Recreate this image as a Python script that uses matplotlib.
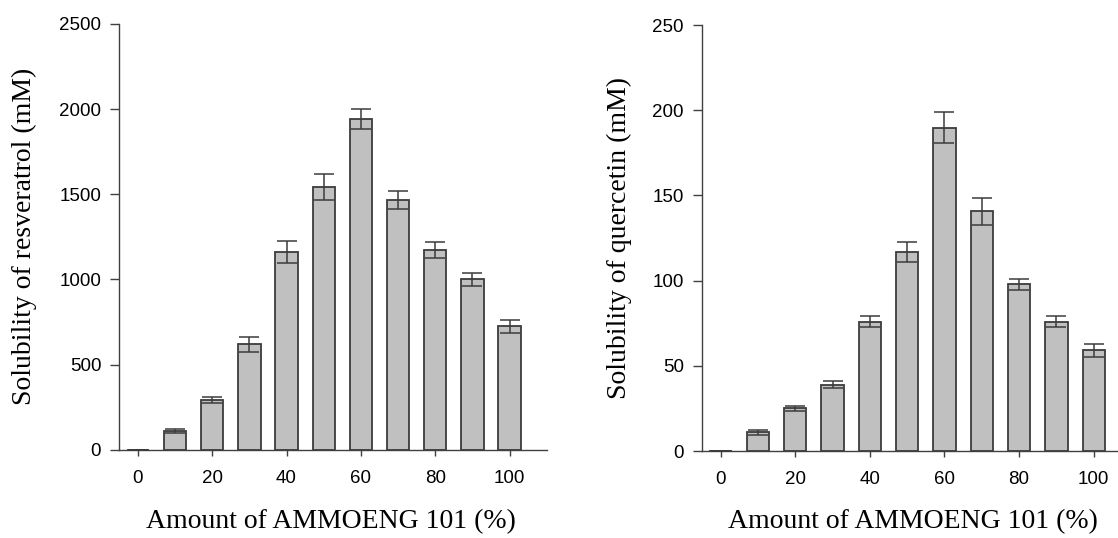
import matplotlib
matplotlib.use("Agg")
import matplotlib.pyplot as plt

# AMMOENG 101 content (%)
amounts = [0, 10, 20, 30, 40, 50, 60, 70, 80, 90, 100]

# Resveratrol solubility (mM) and standard deviation
resveratrol = [0, 111, 292, 619, 1163, 1542, 1942, 1464, 1173, 1000, 724]
resveratrol_err = [0, 10, 20, 44, 65, 78, 60, 53, 48, 36, 39]

# Quercetin solubility (mM) and standard deviation
quercetin = [0, 10.9, 25.2, 39.0, 75.9, 116.9, 189.8, 140.7, 97.8, 75.9, 59.0]
quercetin_err = [0, 1.6, 1.5, 2.3, 3.1, 6.0, 9.1, 7.8, 3.3, 3.2, 3.9]

x_ticks = [0, 20, 40, 60, 80, 100]
res_ticks = [0, 500, 1000, 1500, 2000, 2500]
que_ticks = [0, 50, 100, 150, 200, 250]

W, H = 1118, 538
fig = plt.figure(figsize=(W / 100, H / 100), dpi=100)

tick_font = "Liberation Sans"
label_font = "Liberation Serif"
edge = "#3c3c3c"


def panel(rect, values, errors, yticks, ylabel, ylabel_x, xlabel_x, xlabel_y):
    ax = fig.add_axes(rect)
    ax.bar(amounts, values, width=6, color="#c0c0c0", edgecolor=edge,
           linewidth=1.3, zorder=2)
    ax.errorbar(amounts, values, yerr=errors, fmt="none", ecolor=edge,
                elinewidth=1.1, capsize=7.5, capthick=1.1, zorder=3)
    ax.set_xlim(-5, 110)
    ax.set_ylim(0, yticks[-1])
    ax.set_xticks(x_ticks)
    ax.set_yticks(yticks)
    for side in ("top", "right"):
        ax.spines[side].set_visible(False)
    for side in ("left", "bottom"):
        ax.spines[side].set_color("#404040")
        ax.spines[side].set_linewidth(1.0)
    ax.tick_params(axis="y", direction="out", length=6.5, width=1.0,
                   color="#404040", pad=6.5)
    ax.tick_params(axis="x", direction="out", length=4.5, width=1.0,
                   color="#404040", pad=10)
    for lab in ax.get_xticklabels() + ax.get_yticklabels():
        lab.set_fontfamily(tick_font)
        lab.set_fontsize(13.5)
    ax.set_xlabel("Amount of AMMOENG 101 (%)", fontfamily=label_font,
                  fontsize=20)
    ax.set_ylabel(ylabel, fontfamily=label_font, fontsize=20)
    ax.xaxis.set_label_coords(xlabel_x, xlabel_y)
    ax.yaxis.set_label_coords(ylabel_x, 0.5)
    return ax


panel([119.3 / W, (H - 449.7) / H, 427.4 / W, 425.7 / H],
      resveratrol, resveratrol_err, res_ticks,
      "Solubility of resveratrol (mM)", -0.193, 0.495, -0.139)
panel([702 / W, (H - 451) / H, 429 / W, 426 / H],
      quercetin, quercetin_err, que_ticks,
      "Solubility of quercetin (mM)", -0.163, 0.492, -0.136)

fig.savefig("out.png", dpi=100)
